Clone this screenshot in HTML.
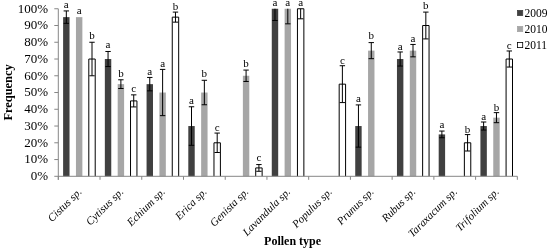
<!DOCTYPE html>
<html><head><meta charset="utf-8"><style>
html,body{margin:0;padding:0;background:#fff;}
body{width:550px;height:249px;overflow:hidden;}
svg{display:block;filter:blur(0.3px);}
text{font-family:"Liberation Serif",serif;}
.ax{stroke:#868686;stroke-width:1;}
.yl{font-size:13px;text-anchor:end;fill:#000;}
.xl{font-size:11px;font-style:italic;text-anchor:end;fill:#000;}
.bl{font-size:11px;text-anchor:middle;fill:#000;}
.lg{font-size:11.5px;fill:#000;}
.at{font-size:12px;font-weight:bold;text-anchor:middle;fill:#000;}
</style></head><body>
<svg width="550" height="249" viewBox="0 0 550 249">
<text x="48" y="180.10" class="yl">0%</text>
<text x="48" y="163.35" class="yl">10%</text>
<text x="48" y="146.59" class="yl">20%</text>
<text x="48" y="129.84" class="yl">30%</text>
<text x="48" y="113.08" class="yl">40%</text>
<text x="48" y="96.33" class="yl">50%</text>
<text x="48" y="79.57" class="yl">60%</text>
<text x="48" y="62.82" class="yl">70%</text>
<text x="48" y="46.06" class="yl">80%</text>
<text x="48" y="29.31" class="yl">90%</text>
<text x="48" y="12.55" class="yl">100%</text>
<text transform="translate(82.36,192.30) rotate(-45)" class="xl">Cistus sp.</text>
<text transform="translate(124.09,192.30) rotate(-45)" class="xl">Cytisus sp.</text>
<text transform="translate(165.82,192.30) rotate(-45)" class="xl">Echium sp.</text>
<text transform="translate(207.55,192.30) rotate(-45)" class="xl">Erica sp.</text>
<text transform="translate(249.28,192.30) rotate(-45)" class="xl">Genista sp.</text>
<text transform="translate(291.01,192.30) rotate(-45)" class="xl">Lavandula sp.</text>
<text transform="translate(332.75,192.30) rotate(-45)" class="xl">Populus sp.</text>
<text transform="translate(374.47,192.30) rotate(-45)" class="xl">Prunus sp.</text>
<text transform="translate(416.20,192.30) rotate(-45)" class="xl">Rubus sp.</text>
<text transform="translate(457.93,192.30) rotate(-45)" class="xl">Taraxacum sp.</text>
<text transform="translate(499.66,192.30) rotate(-45)" class="xl">Trifolium sp.</text>
<rect x="63.11" y="17.13" width="6.42" height="159.17" fill="#404040"/>
<rect x="75.95" y="17.13" width="6.42" height="159.17" fill="#a6a6a6"/>
<path d="M88.80,176.30V59.02H95.21V176.30" fill="#fff" stroke="#000" stroke-width="1"/>
<rect x="104.84" y="59.02" width="6.42" height="117.28" fill="#404040"/>
<rect x="117.69" y="84.15" width="6.42" height="92.15" fill="#a6a6a6"/>
<path d="M130.52,176.30V100.90H136.94V176.30" fill="#fff" stroke="#000" stroke-width="1"/>
<rect x="146.57" y="84.15" width="6.42" height="92.15" fill="#404040"/>
<rect x="159.41" y="92.53" width="6.42" height="83.78" fill="#a6a6a6"/>
<path d="M172.25,176.30V17.13H178.68V176.30" fill="#fff" stroke="#000" stroke-width="1"/>
<rect x="188.30" y="126.04" width="6.42" height="50.27" fill="#404040"/>
<rect x="201.14" y="92.53" width="6.42" height="83.78" fill="#a6a6a6"/>
<path d="M213.98,176.30V142.79H220.40V176.30" fill="#fff" stroke="#000" stroke-width="1"/>
<rect x="242.87" y="75.77" width="6.42" height="100.53" fill="#a6a6a6"/>
<path d="M255.71,176.30V167.92H262.13V176.30" fill="#fff" stroke="#000" stroke-width="1"/>
<rect x="271.77" y="8.75" width="6.42" height="167.55" fill="#404040"/>
<rect x="284.61" y="8.75" width="6.42" height="167.55" fill="#a6a6a6"/>
<path d="M297.44,176.30V8.75H303.86V176.30" fill="#fff" stroke="#000" stroke-width="1"/>
<path d="M339.18,176.30V84.15H345.59V176.30" fill="#fff" stroke="#000" stroke-width="1"/>
<rect x="355.23" y="126.04" width="6.42" height="50.27" fill="#404040"/>
<rect x="368.06" y="50.64" width="6.42" height="125.66" fill="#a6a6a6"/>
<rect x="396.96" y="59.02" width="6.42" height="117.28" fill="#404040"/>
<rect x="409.80" y="50.64" width="6.42" height="125.66" fill="#a6a6a6"/>
<path d="M422.63,176.30V25.51H429.05V176.30" fill="#fff" stroke="#000" stroke-width="1"/>
<rect x="438.69" y="134.41" width="6.42" height="41.89" fill="#404040"/>
<path d="M464.36,176.30V142.79H470.78V176.30" fill="#fff" stroke="#000" stroke-width="1"/>
<rect x="480.42" y="126.04" width="6.42" height="50.27" fill="#404040"/>
<rect x="493.25" y="117.66" width="6.42" height="58.64" fill="#a6a6a6"/>
<path d="M506.09,176.30V59.02H512.51V176.30" fill="#fff" stroke="#000" stroke-width="1"/>
<line x1="54.3" y1="176.30" x2="58.30" y2="176.30" class="ax"/>
<line x1="54.3" y1="159.55" x2="58.30" y2="159.55" class="ax"/>
<line x1="54.3" y1="142.79" x2="58.30" y2="142.79" class="ax"/>
<line x1="54.3" y1="126.04" x2="58.30" y2="126.04" class="ax"/>
<line x1="54.3" y1="109.28" x2="58.30" y2="109.28" class="ax"/>
<line x1="54.3" y1="92.53" x2="58.30" y2="92.53" class="ax"/>
<line x1="54.3" y1="75.77" x2="58.30" y2="75.77" class="ax"/>
<line x1="54.3" y1="59.02" x2="58.30" y2="59.02" class="ax"/>
<line x1="54.3" y1="42.26" x2="58.30" y2="42.26" class="ax"/>
<line x1="54.3" y1="25.51" x2="58.30" y2="25.51" class="ax"/>
<line x1="54.3" y1="8.75" x2="58.30" y2="8.75" class="ax"/>
<line x1="58.30" y1="8.75" x2="58.30" y2="179.80" class="ax"/>
<line x1="58.30" y1="176.30" x2="517.33" y2="176.30" class="ax"/>
<line x1="58.30" y1="176.30" x2="58.30" y2="179.80" class="ax"/>
<line x1="100.03" y1="176.30" x2="100.03" y2="179.80" class="ax"/>
<line x1="141.76" y1="176.30" x2="141.76" y2="179.80" class="ax"/>
<line x1="183.49" y1="176.30" x2="183.49" y2="179.80" class="ax"/>
<line x1="225.22" y1="176.30" x2="225.22" y2="179.80" class="ax"/>
<line x1="266.95" y1="176.30" x2="266.95" y2="179.80" class="ax"/>
<line x1="308.68" y1="176.30" x2="308.68" y2="179.80" class="ax"/>
<line x1="350.41" y1="176.30" x2="350.41" y2="179.80" class="ax"/>
<line x1="392.14" y1="176.30" x2="392.14" y2="179.80" class="ax"/>
<line x1="433.87" y1="176.30" x2="433.87" y2="179.80" class="ax"/>
<line x1="475.60" y1="176.30" x2="475.60" y2="179.80" class="ax"/>
<line x1="517.33" y1="176.30" x2="517.33" y2="179.80" class="ax"/>
<g stroke="#000" stroke-width="1"><line x1="66.32" y1="10.93" x2="66.32" y2="23.33"/><line x1="63.62" y1="10.93" x2="69.02" y2="10.93"/><line x1="63.62" y1="23.33" x2="69.02" y2="23.33"/><line x1="92.00" y1="42.26" x2="92.00" y2="75.77"/><line x1="89.30" y1="42.26" x2="94.70" y2="42.26"/><line x1="89.30" y1="75.77" x2="94.70" y2="75.77"/><line x1="108.05" y1="51.48" x2="108.05" y2="66.55"/><line x1="105.35" y1="51.48" x2="110.75" y2="51.48"/><line x1="105.35" y1="66.55" x2="110.75" y2="66.55"/><line x1="120.89" y1="79.79" x2="120.89" y2="88.50"/><line x1="118.19" y1="79.79" x2="123.59" y2="79.79"/><line x1="118.19" y1="88.50" x2="123.59" y2="88.50"/><line x1="133.73" y1="94.87" x2="133.73" y2="106.93"/><line x1="131.03" y1="94.87" x2="136.43" y2="94.87"/><line x1="131.03" y1="106.93" x2="136.43" y2="106.93"/><line x1="149.78" y1="77.45" x2="149.78" y2="90.85"/><line x1="147.09" y1="77.45" x2="152.48" y2="77.45"/><line x1="147.09" y1="90.85" x2="152.48" y2="90.85"/><line x1="162.62" y1="69.40" x2="162.62" y2="115.65"/><line x1="159.93" y1="69.40" x2="165.32" y2="69.40"/><line x1="159.93" y1="115.65" x2="165.32" y2="115.65"/><line x1="175.47" y1="12.10" x2="175.47" y2="22.15"/><line x1="172.77" y1="12.10" x2="178.16" y2="12.10"/><line x1="172.77" y1="22.15" x2="178.16" y2="22.15"/><line x1="191.51" y1="106.77" x2="191.51" y2="145.30"/><line x1="188.81" y1="106.77" x2="194.21" y2="106.77"/><line x1="188.81" y1="145.30" x2="194.21" y2="145.30"/><line x1="204.35" y1="80.29" x2="204.35" y2="104.76"/><line x1="201.65" y1="80.29" x2="207.05" y2="80.29"/><line x1="201.65" y1="104.76" x2="207.05" y2="104.76"/><line x1="217.19" y1="133.07" x2="217.19" y2="152.51"/><line x1="214.49" y1="133.07" x2="219.89" y2="133.07"/><line x1="214.49" y1="152.51" x2="219.89" y2="152.51"/><line x1="246.08" y1="70.07" x2="246.08" y2="81.47"/><line x1="243.38" y1="70.07" x2="248.78" y2="70.07"/><line x1="243.38" y1="81.47" x2="248.78" y2="81.47"/><line x1="258.92" y1="164.57" x2="258.92" y2="171.27"/><line x1="256.22" y1="164.57" x2="261.62" y2="164.57"/><line x1="256.22" y1="171.27" x2="261.62" y2="171.27"/><line x1="274.98" y1="8.75" x2="274.98" y2="20.48"/><line x1="272.28" y1="20.48" x2="277.68" y2="20.48"/><line x1="287.81" y1="8.75" x2="287.81" y2="23.83"/><line x1="285.12" y1="23.83" x2="290.51" y2="23.83"/><line x1="300.65" y1="8.75" x2="300.65" y2="18.80"/><line x1="297.95" y1="18.80" x2="303.35" y2="18.80"/><line x1="342.38" y1="65.72" x2="342.38" y2="102.58"/><line x1="339.69" y1="65.72" x2="345.08" y2="65.72"/><line x1="339.69" y1="102.58" x2="345.08" y2="102.58"/><line x1="358.44" y1="104.92" x2="358.44" y2="147.15"/><line x1="355.74" y1="104.92" x2="361.13" y2="104.92"/><line x1="355.74" y1="147.15" x2="361.13" y2="147.15"/><line x1="371.27" y1="42.60" x2="371.27" y2="58.68"/><line x1="368.57" y1="42.60" x2="373.97" y2="42.60"/><line x1="368.57" y1="58.68" x2="373.97" y2="58.68"/><line x1="400.17" y1="51.98" x2="400.17" y2="66.05"/><line x1="397.47" y1="51.98" x2="402.87" y2="51.98"/><line x1="397.47" y1="66.05" x2="402.87" y2="66.05"/><line x1="413.00" y1="44.44" x2="413.00" y2="56.84"/><line x1="410.31" y1="44.44" x2="415.70" y2="44.44"/><line x1="410.31" y1="56.84" x2="415.70" y2="56.84"/><line x1="425.84" y1="12.10" x2="425.84" y2="38.91"/><line x1="423.14" y1="12.10" x2="428.54" y2="12.10"/><line x1="423.14" y1="38.91" x2="428.54" y2="38.91"/><line x1="441.89" y1="131.06" x2="441.89" y2="137.76"/><line x1="439.19" y1="131.06" x2="444.59" y2="131.06"/><line x1="439.19" y1="137.76" x2="444.59" y2="137.76"/><line x1="467.57" y1="134.58" x2="467.57" y2="151.00"/><line x1="464.87" y1="134.58" x2="470.27" y2="134.58"/><line x1="464.87" y1="151.00" x2="470.27" y2="151.00"/><line x1="483.62" y1="122.01" x2="483.62" y2="130.06"/><line x1="480.93" y1="122.01" x2="486.32" y2="122.01"/><line x1="480.93" y1="130.06" x2="486.32" y2="130.06"/><line x1="496.46" y1="112.63" x2="496.46" y2="122.68"/><line x1="493.76" y1="112.63" x2="499.16" y2="112.63"/><line x1="493.76" y1="122.68" x2="499.16" y2="122.68"/><line x1="509.30" y1="50.97" x2="509.30" y2="67.06"/><line x1="506.60" y1="50.97" x2="512.00" y2="50.97"/><line x1="506.60" y1="67.06" x2="512.00" y2="67.06"/></g>
<text x="66.32" y="7.50" class="bl">a</text>
<text x="79.16" y="14.30" class="bl">a</text>
<text x="92.00" y="38.60" class="bl">b</text>
<text x="108.05" y="48.00" class="bl">a</text>
<text x="120.89" y="76.80" class="bl">b</text>
<text x="133.73" y="92.00" class="bl">c</text>
<text x="149.78" y="75.20" class="bl">a</text>
<text x="162.62" y="67.00" class="bl">a</text>
<text x="175.47" y="9.50" class="bl">b</text>
<text x="191.51" y="104.40" class="bl">a</text>
<text x="204.35" y="77.00" class="bl">b</text>
<text x="217.19" y="130.50" class="bl">c</text>
<text x="246.08" y="66.80" class="bl">b</text>
<text x="258.92" y="161.30" class="bl">c</text>
<text x="274.98" y="6.40" class="bl">a</text>
<text x="287.81" y="6.40" class="bl">a</text>
<text x="300.65" y="6.40" class="bl">a</text>
<text x="342.38" y="63.50" class="bl">c</text>
<text x="358.44" y="101.80" class="bl">a</text>
<text x="371.27" y="39.40" class="bl">b</text>
<text x="400.17" y="49.50" class="bl">a</text>
<text x="413.00" y="42.00" class="bl">a</text>
<text x="425.84" y="9.10" class="bl">b</text>
<text x="441.89" y="128.40" class="bl">a</text>
<text x="467.57" y="133.20" class="bl">b</text>
<text x="483.62" y="120.30" class="bl">a</text>
<text x="496.46" y="110.80" class="bl">b</text>
<text x="509.30" y="48.70" class="bl">c</text>
<rect x="517.5" y="10.40" width="5.2" height="5.2" fill="#404040" stroke="#404040" stroke-width="0.8"/>
<text x="524.5" y="17.30" class="lg">2009</text>
<rect x="517.5" y="26.40" width="5.2" height="5.2" fill="#a6a6a6" stroke="#a6a6a6" stroke-width="0.8"/>
<text x="524.5" y="33.30" class="lg">2010</text>
<rect x="517.5" y="42.40" width="5.2" height="5.2" fill="#fff" stroke="#000" stroke-width="0.8"/>
<text x="524.5" y="49.30" class="lg">2011</text>
<text transform="translate(12.3,92.4) rotate(-90)" class="at" style="font-size:12.4px">Frequency</text>
<text x="292.6" y="244.6" class="at">Pollen type</text>
</svg>
</body></html>
